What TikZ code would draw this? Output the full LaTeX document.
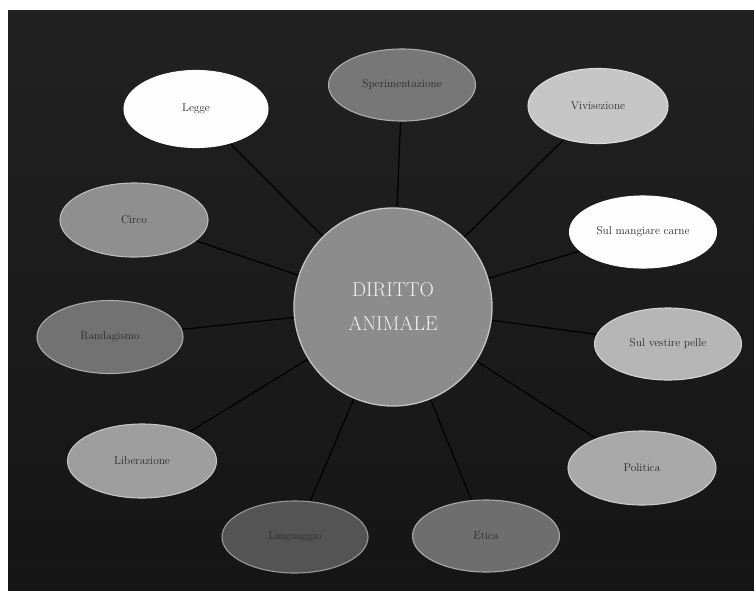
\documentclass[tikz,border=0pt]{standalone}
\usetikzlibrary{shapes.geometric}
\definecolor{bgtop}{HTML}{212121}
\definecolor{bgbot}{HTML}{151515}
\definecolor{cLegge}{HTML}{FDFDFD}
\definecolor{cSper}{HTML}{777777}
\definecolor{cVivi}{HTML}{C6C6C6}
\definecolor{cCarne}{HTML}{FEFEFE}
\definecolor{cCirco}{HTML}{8F8F8F}
\definecolor{cRand}{HTML}{727272}
\definecolor{cPelle}{HTML}{B6B6B6}
\definecolor{cLib}{HTML}{9E9E9E}
\definecolor{cPol}{HTML}{A9A9A9}
\definecolor{cEtica}{HTML}{6E6E6E}
\definecolor{cLing}{HTML}{545454}
\definecolor{cCenter}{HTML}{8C8C8C}
\definecolor{txt}{HTML}{2A2A2A}
\pgfdeclarelayer{bg}
\pgfdeclarelayer{wires}
\pgfsetlayers{bg,wires,main}
\tikzset{
  topic/.style={ellipse, inner sep=0pt, minimum width=147pt, minimum height=73pt,
    fill=#1, draw=#1!60!white, line width=1.1pt, text=txt,
    font=\fontsize{11.3}{13}\selectfont},
  hub/.style={circle, inner sep=0pt, minimum size=198pt, fill=cCenter,
    draw=cCenter!50!white, line width=1.3pt, text=white!94!black, align=center,
    font=\fontsize{20}{34}\selectfont},
  wire/.style={draw=black, line width=1.2pt}
}
\begin{document}
\begin{tikzpicture}[x=1pt,y=-1pt]
\begin{pgfonlayer}{bg}
\fill[white] (0,0) rectangle (754,590);
\shade[top color=bgtop, bottom color=bgbot] (8,10) rectangle (754,590);
\end{pgfonlayer}
\useasboundingbox (0,0) rectangle (754,590);

\node[hub] (c) at (393,307) {DIRITTO\\ANIMALE};

\node[topic=cLegge, minimum width=144pt, minimum height=77pt] (legge) at (196,109) {Legge};
\node[topic=cSper, minimum height=72pt] (sper) at (402,85) {Sperimentazione};
\node[topic=cVivi, minimum width=140pt, minimum height=75pt] (vivi) at (598,106) {Vivisezione};
\node[topic=cCarne, minimum height=72pt] (carne) at (643,232) {Sul mangiare carne};
\node[topic=cCirco, minimum width=148pt, minimum height=74pt] (circo) at (134,220) {Circo};
\node[topic=cRand, minimum width=146pt] (rand) at (110,337) {Randagismo};
\node[topic=cPelle, minimum height=72pt] (pelle) at (668,344) {Sul vestire pelle};
\node[topic=cLib, minimum width=149pt, minimum height=74pt] (lib) at (142,461) {Liberazione};
\node[topic=cPol, minimum width=148pt, minimum height=74pt] (pol) at (642,468) {Politica};
\node[topic=cEtica, minimum height=72pt] (etica) at (486,536) {Etica};
\node[topic=cLing, minimum width=146pt, minimum height=72pt] (ling) at (295,537) {Linguaggio};

\begin{pgfonlayer}{wires}
\foreach \n in {legge,sper,vivi,carne,circo,rand,pelle,lib,pol,etica,ling}
  \draw[wire] (c) -- (\n);
\end{pgfonlayer}
\end{tikzpicture}
\end{document}
